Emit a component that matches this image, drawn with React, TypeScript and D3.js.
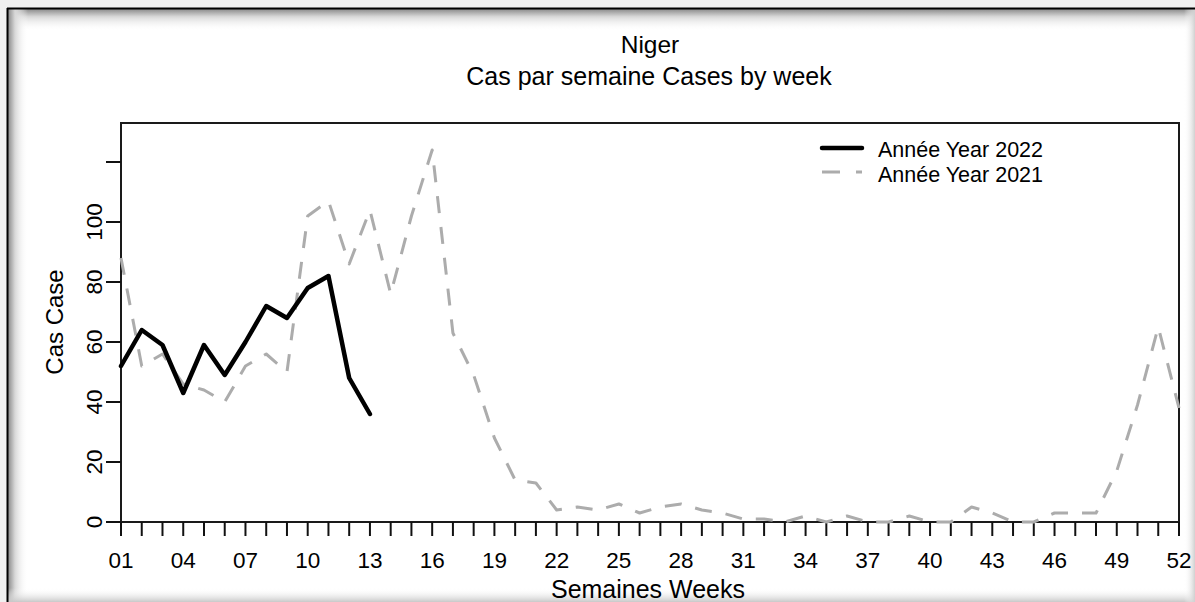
import React from "react";
import * as d3 from "d3";

const weeks = d3.range(1, 53);
const cases2022 = [52, 64, 59, 43, 59, 49, 60, 72, 68, 78, 82, 48, 36];
const cases2021 = [
  88, 52, 56, 46, 44, 40, 52, 56, 50, 102, 107, 86, 104, 76, 102, 124, 63, 49, 28, 14,
  13, 4, 5, 4, 6, 3, 5, 6, 4, 3, 1, 1, 0, 2, 0, 2, 0, 0, 2, 0,
  0, 5, 3, 0, 0, 3, 3, 3, 17, 39, 65, 38,
];
const yTicks = [0, 20, 40, 60, 80, 100, 120];
const yLabels = [0, 20, 40, 60, 80, 100];
const xLabelWeeks = [1, 4, 7, 10, 13, 16, 19, 22, 25, 28, 31, 34, 37, 40, 43, 46, 49, 52];
const legendItems = ["Année Year 2022", "Année Year 2021"];

const W = 1195;
const H = 602;
const L = 121, R = 1179, T = 123, B = 522;
const FONT = "'Liberation Sans', Arial, sans-serif";
const GRAY = "#acacac";

export default function App() {
  const x = d3.scaleLinear().domain([1, 52]).range([L, R]);
  const y = d3.scaleLinear().domain([0, 133]).range([B, T]);
  const line = d3
    .line<number>()
    .x((_, i) => x(i + 1))
    .y((d) => y(d));

  return (
    <div style={{ position: "fixed", left: 0, top: 0 }}>
      <svg width={W} height={H} style={{ display: "block" }}>
        <defs>
          <linearGradient id="shTop" x1="0" y1="0" x2="0" y2="1">
            <stop offset="0" stopColor="#8a8a8a" />
            <stop offset="0.35" stopColor="#d8d8d8" />
            <stop offset="1" stopColor="#ffffff" stopOpacity="0" />
          </linearGradient>
          <linearGradient id="shLeft" x1="0" y1="0" x2="1" y2="0">
            <stop offset="0" stopColor="#8a8a8a" />
            <stop offset="0.35" stopColor="#d8d8d8" />
            <stop offset="1" stopColor="#ffffff" stopOpacity="0" />
          </linearGradient>
          <linearGradient id="shBot" x1="0" y1="0" x2="0" y2="1">
            <stop offset="0" stopColor="#ffffff" stopOpacity="0" />
            <stop offset="1" stopColor="#c8c8c8" />
          </linearGradient>
          <linearGradient id="shRight" x1="0" y1="0" x2="1" y2="0">
            <stop offset="0" stopColor="#ffffff" stopOpacity="0" />
            <stop offset="1" stopColor="#d0d0d0" />
          </linearGradient>
        </defs>
        <rect x={0} y={0} width={W} height={H} fill="#f0f0f0" />
        <rect x={7} y={8} width={W - 7} height={H - 8} fill="#ffffff" />
        <rect x={8} y={9} width={W - 8} height={22} fill="url(#shTop)" />
        <rect x={8} y={9} width={20} height={H - 9} fill="url(#shLeft)" />
        <rect x={8} y={588} width={W - 8} height={14} fill="url(#shBot)" />
        <rect x={1184} y={9} width={11} height={H - 9} fill="url(#shRight)" />
        <line x1={7} y1={8.5} x2={W} y2={8.5} stroke="#000" strokeWidth={2} />
        <line x1={7.5} y1={8} x2={7.5} y2={H} stroke="#000" strokeWidth={2} />

        {/* Titles */}
        <text x={650} y={53} textAnchor="middle" fontFamily={FONT} fontSize={24.5} fill="#000">
          Niger
        </text>
        <text x={649} y={85} textAnchor="middle" fontFamily={FONT} fontSize={25} fill="#000">
          Cas par semaine Cases by week
        </text>

        {/* Plot box */}
        <rect x={L} y={T} width={R - L} height={B - T} fill="#fff" stroke="#1a1a1a" strokeWidth={2} />

        {/* Y ticks */}
        {yTicks.map((t) => (
          <line key={"yt" + t} x1={L - 15} x2={L} y1={y(t)} y2={y(t)} stroke="#111" strokeWidth={2} />
        ))}
        {yLabels.map((t) => (
          <text
            key={"yl" + t}
            transform={`translate(${101.5},${y(t)}) rotate(-90)`}
            textAnchor="middle"
            fontFamily={FONT}
            fontSize={22.5}
            fill="#000"
          >
            {t}
          </text>
        ))}
        <text
          transform={`translate(${63},${322}) rotate(-90)`}
          textAnchor="middle"
          fontFamily={FONT}
          fontSize={24}
          fill="#000"
        >
          Cas Case
        </text>

        {/* X ticks */}
        {weeks.map((w) => (
          <line key={"xt" + w} x1={x(w)} x2={x(w)} y1={B} y2={B + 14} stroke="#111" strokeWidth={2} />
        ))}
        {xLabelWeeks.map((w) => (
          <text key={"xl" + w} x={x(w)} y={567.5} textAnchor="middle" fontFamily={FONT} fontSize={22.5} fill="#000">
            {d3.format("02d")(w)}
          </text>
        ))}
        <text x={648} y={598} textAnchor="middle" fontFamily={FONT} fontSize={25} fill="#000">
          Semaines Weeks
        </text>

        {/* Series */}
        <path
          d={line(cases2021) || ""}
          fill="none"
          stroke={GRAY}
          strokeWidth={3}
          strokeDasharray="17,14"
          strokeLinejoin="round"
        />
        <path
          d={line(cases2022) || ""}
          fill="none"
          stroke="#000"
          strokeWidth={4.5}
          strokeLinejoin="round"
          strokeLinecap="round"
        />

        {/* Legend */}
        <line x1={822} x2={862} y1={148} y2={148} stroke="#000" strokeWidth={4.5} strokeLinecap="round" />
        <line x1={822} x2={862} y1={172} y2={172} stroke={GRAY} strokeWidth={3} strokeDasharray="18,16" />
        {legendItems.map((s, i) => (
          <text key={s} x={878} y={156.5 + i * 25} fontFamily={FONT} fontSize={21.5} fill="#000">
            {s}
          </text>
        ))}
      </svg>
    </div>
  );
}
